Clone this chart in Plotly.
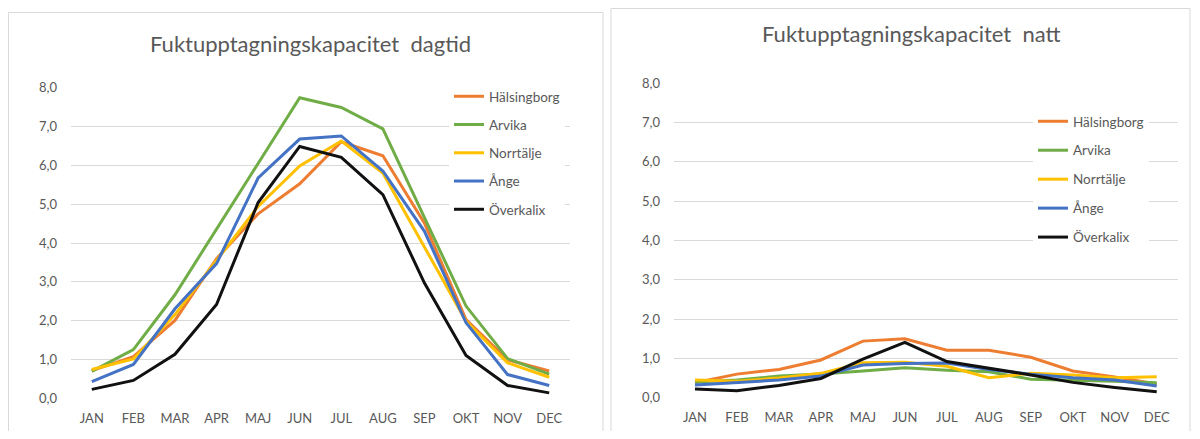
import plotly.graph_objects as go

# The page body has an 8px default margin; the figure is sized so that the page
# exactly fills the 1200x439 window, and all placements are given in window pixels.
WIN_W, WIN_H = 1200, 439
OFF = 8
W, H = WIN_W - 2 * OFF, WIN_H - 2 * OFF

months = ["JAN", "FEB", "MAR", "APR", "MAJ", "JUN", "JUL", "AUG", "SEP", "OKT", "NOV", "DEC"]
series_names = ["Hälsingborg", "Arvika", "Norrtälje", "Ånge", "Överkalix"]
colors = ["#ED7D31", "#70AD47", "#FFC000", "#4472C4", "#111111"]

# Day (dagtid)
day_halsingborg = [0.72, 1.08, 2.01, 3.60, 4.75, 5.52, 6.60, 6.24, 4.51, 2.03, 1.00, 0.71]
day_arvika      = [0.70, 1.26, 2.67, 4.35, 6.05, 7.73, 7.48, 6.93, 4.65, 2.38, 1.03, 0.63]
day_norrtalje   = [0.75, 1.02, 2.16, 3.55, 4.94, 5.98, 6.62, 5.80, 3.91, 1.99, 0.92, 0.55]
day_ange        = [0.44, 0.88, 2.31, 3.47, 5.67, 6.67, 6.75, 5.85, 4.30, 1.95, 0.62, 0.34]
day_overkalix   = [0.24, 0.47, 1.14, 2.42, 5.04, 6.48, 6.20, 5.24, 2.97, 1.11, 0.34, 0.15]

# Night (natt)
night_halsingborg = [0.38, 0.60, 0.72, 0.96, 1.44, 1.50, 1.21, 1.21, 1.03, 0.68, 0.53, 0.35]
night_arvika      = [0.40, 0.45, 0.55, 0.60, 0.68, 0.76, 0.70, 0.66, 0.47, 0.45, 0.42, 0.38]
night_norrtalje   = [0.45, 0.42, 0.50, 0.62, 0.89, 0.90, 0.80, 0.51, 0.62, 0.58, 0.51, 0.53]
night_ange        = [0.32, 0.38, 0.45, 0.55, 0.83, 0.87, 0.88, 0.72, 0.60, 0.51, 0.45, 0.30]
night_overkalix   = [0.22, 0.18, 0.31, 0.49, 0.98, 1.41, 0.92, 0.75, 0.58, 0.39, 0.26, 0.15]

title_day = "Fuktupptagningskapacitet\u00a0 dagtid"
title_night = "Fuktupptagningskapacitet\u00a0 natt"
y_ticks = [0, 1, 2, 3, 4, 5, 6, 7, 8]

day_data = [day_halsingborg, day_arvika, day_norrtalje, day_ange, day_overkalix]
night_data = [night_halsingborg, night_arvika, night_norrtalje, night_ange, night_overkalix]

FONT = "Lato"
TXT = "#595959"
GRID = "#D9D9D9"


def px(x):
    return (x - OFF) / W


def py(y):
    return 1 - (y - OFF) / H


fig = go.Figure()

for i, name in enumerate(series_names):
    fig.add_trace(go.Scatter(
        x=months, y=day_data[i], name=name, mode="lines",
        line=dict(color=colors[i], width=3),
        xaxis="x", yaxis="y", legend="legend", legendgroup="d" + str(i),
    ))
for i, name in enumerate(series_names):
    fig.add_trace(go.Scatter(
        x=months, y=night_data[i], name=name, mode="lines",
        line=dict(color=colors[i], width=3),
        xaxis="x2", yaxis="y2", legend="legend2", legendgroup="n" + str(i),
    ))

axis_x = dict(type="category", categoryorder="array", categoryarray=months,
              range=[-0.5, 11.5], showgrid=False, zeroline=False, showline=False,
              ticks="", tickfont=dict(family=FONT, size=13, color=TXT),
              ticklabelstandoff=10, fixedrange=True, automargin=False)
axis_y = dict(range=[0, 8], tickvals=y_ticks, tickformat=".1f", showgrid=True,
              gridcolor=GRID, gridwidth=1, zeroline=False, showline=False,
              ticks="", tickfont=dict(family=FONT, size=13, color=TXT),
              ticklabelstandoff=13, fixedrange=True, automargin=False)

legend_common = dict(bgcolor="white", borderwidth=0, font=dict(family=FONT, size=13.5, color=TXT),
                     traceorder="grouped", xanchor="left", yanchor="top",
                     itemclick=False, itemdoubleclick=False)

fig.update_layout(
    width=W, height=H,
    margin=dict(l=0, r=0, t=0, b=0, pad=0),
    paper_bgcolor="white", plot_bgcolor="white",
    separators=", ",
    showlegend=True,
    xaxis=dict(axis_x, domain=[px(71), px(570)], anchor="y"),
    yaxis=dict(axis_y, domain=[py(398.7), py(87.3)], anchor="x"),
    xaxis2=dict(axis_x, domain=[px(674), px(1177.7)], anchor="y2"),
    yaxis2=dict(axis_y, domain=[py(397.7), py(83.3)], anchor="x2"),
    legend=dict(legend_common, x=px(449), y=py(81), tracegroupgap=7.7),
    legend2=dict(legend_common, x=px(1033), y=py(106), tracegroupgap=8.4),
    shapes=[
        dict(type="rect", xref="paper", yref="paper", x0=px(8.5), x1=px(603), y0=py(470), y1=py(12.5),
             line=dict(color=GRID, width=1), fillcolor="rgba(0,0,0,0)", layer="below"),
        dict(type="rect", xref="paper", yref="paper", x0=px(611), x1=px(1190), y0=py(470), y1=py(8.5),
             line=dict(color=GRID, width=1), fillcolor="rgba(0,0,0,0)", layer="below"),
    ],
    annotations=[
        dict(text=title_day, xref="paper", yref="paper", x=px(310), y=py(43),
             xanchor="center", yanchor="middle", showarrow=False,
             font=dict(family=FONT, size=22, color=TXT)),
        dict(text=title_night, xref="paper", yref="paper", x=px(911), y=py(34),
             xanchor="center", yanchor="middle", showarrow=False,
             font=dict(family=FONT, size=22, color=TXT)),
    ],
)

fig.write_html("out.html")
